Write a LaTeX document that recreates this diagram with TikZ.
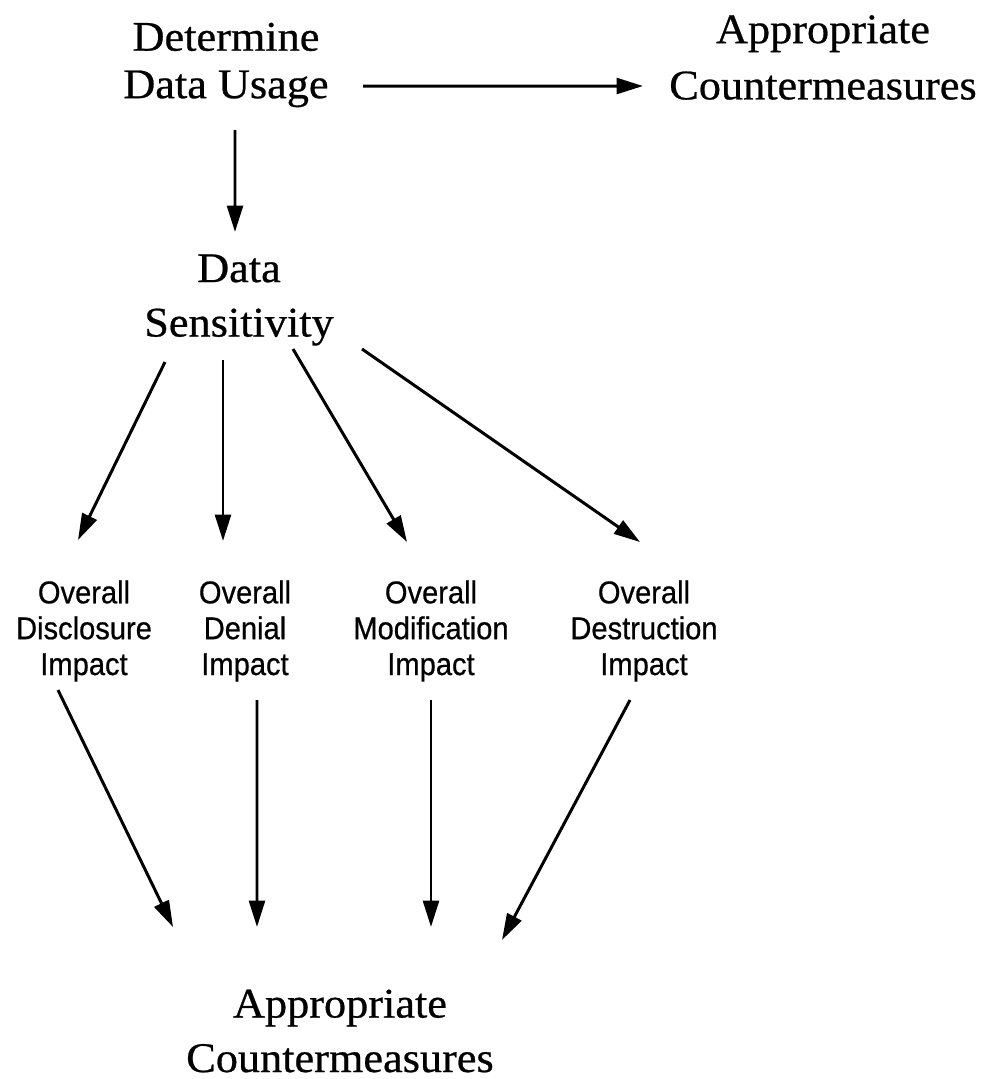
\documentclass[tikz,border=0pt]{standalone}
\usepackage{fontspec}
\setmainfont{Liberation Serif}
\newfontfamily\bigserif[FakeStretch=1.05,FakeBold=0.6]{Liberation Serif}
\newfontfamily\impactsans[FakeStretch=0.92,FakeBold=0.6]{Liberation Sans}
\usepackage{tikz}
\usetikzlibrary{arrows.meta}
\tikzstyle{bigtext} = [font=\bigserif\fontsize{24pt}{27pt}\selectfont, align=center, inner sep=0pt]
\tikzstyle{impact} = [font=\impactsans\fontsize{18pt}{20.4pt}\selectfont, align=center, inner sep=0pt]
\tikzstyle{arrow} = [line width=1.7pt,->,>={Triangle[length=15pt,width=9pt]}]

\begin{document}
\begin{tikzpicture}[node distance=1cm]
\useasboundingbox (0,0) rectangle (19.86,-21.58);
\node (usage) [bigtext] at (4.52,-1.30) {Determine\\Data Usage};
\node (counter1) [bigtext, right of=usage, xshift=10.94cm, yshift=0.15cm] {Appropriate\\[5pt]Countermeasures};
\node (sens) [bigtext, below of=usage, xshift=0.26cm, yshift=-3.70cm] {Data\\[4pt]Sensitivity};
\node (disc) [impact, below of=sens, xshift=-3.10cm, yshift=-5.62cm] {Overall\\Disclosure\\Impact};
\node (denial) [impact, right of=disc, xshift=2.22cm] {Overall\\Denial\\Impact};
\node (modif) [impact, right of=denial, xshift=2.72cm] {Overall\\Modification\\Impact};
\node (destr) [impact, right of=modif, xshift=3.26cm] {Overall\\Destruction\\Impact};
\node (counter2) [bigtext, below of=denial, xshift=1.9cm, yshift=-7cm] {Appropriate\\[4pt]Countermeasures};

%%% drawing %%%%%%%%%%%%%%%%%%%%%%%
\draw [arrow] ([xshift=2.74cm,yshift=-0.42cm]usage.center) -- ([xshift=-3.60cm,yshift=-0.57cm]counter1.center);
\draw [arrow] ([xshift=0.18cm,yshift=-1.30cm]usage.center) -- ([xshift=-0.08cm,yshift=1.36cm]sens.center);
\draw [arrow] ([xshift=-1.48cm,yshift=-1.24cm]sens.center) -- ([xshift=-0.12cm,yshift=1.82cm]disc.center);
\draw [arrow] ([xshift=-0.32cm,yshift=-1.20cm]sens.center) -- ([xshift=-0.44cm,yshift=1.80cm]denial.center);
\draw [arrow] ([xshift=1.08cm,yshift=-0.98cm]sens.center) -- ([xshift=-0.48cm,yshift=1.78cm]modif.center);
\draw [arrow] ([xshift=2.46cm,yshift=-0.98cm]sens.center) -- ([xshift=-0.08cm,yshift=1.78cm]destr.center);
\draw [arrow] ([xshift=-0.52cm,yshift=-1.18cm]disc.center) -- ([xshift=-3.34cm,yshift=2.08cm]counter2.center);
\draw [arrow] ([xshift=0.24cm,yshift=-1.38cm]denial.center) -- ([xshift=-1.66cm,yshift=2.08cm]counter2.center);
\draw [arrow] ([yshift=-1.38cm]modif.center) -- ([xshift=1.82cm,yshift=2.08cm]counter2.center);
\draw [arrow] ([xshift=-0.28cm,yshift=-1.38cm]destr.center) -- ([xshift=3.24cm,yshift=1.82cm]counter2.center);
\end{tikzpicture}
\end{document}
